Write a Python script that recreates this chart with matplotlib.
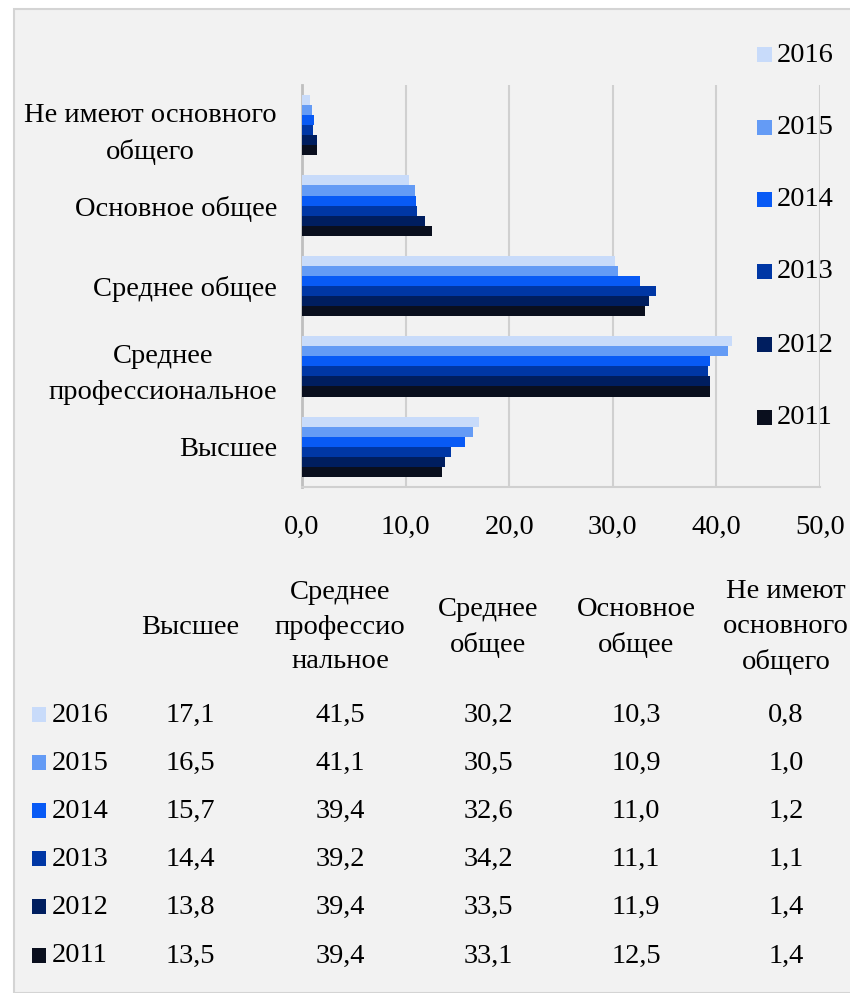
import matplotlib.pyplot as plt
import matplotlib.patches as mpatches
import numpy as np

plt.rcParams['font.family'] = ['Liberation Serif', 'DejaVu Serif']

# categories bottom -> top on chart
categories = ['Высшее', 'Среднее\nпрофессиональное', 'Среднее общее',
              'Основное общее', 'Не имеют основного\nобщего']
table_headers = ['Высшее', 'Среднее\nпрофессио\nнальное', 'Среднее\nобщее',
                 'Основное\nобщее', 'Не имеют\nосновного\nобщего']
years = ['2016', '2015', '2014', '2013', '2012', '2011']
colors = ['#c8dbfa', '#649bf5', '#085af5', '#0037a5', '#001e5f', '#0a0f1e']

# values per year, same order as categories
v2016 = [17.1, 41.5, 30.2, 10.3, 0.8]
v2015 = [16.5, 41.1, 30.5, 10.9, 1.0]
v2014 = [15.7, 39.4, 32.6, 11.0, 1.2]
v2013 = [14.4, 39.2, 34.2, 11.1, 1.1]
v2012 = [13.8, 39.4, 33.5, 11.9, 1.4]
v2011 = [13.5, 39.4, 33.1, 12.5, 1.4]
values = [v2016, v2015, v2014, v2013, v2012, v2011]

bg = '#f2f2f2'
fs = 20.5
fig = plt.figure(figsize=(8.5, 9.93), dpi=100)
fig.patch.set_facecolor('white')
fig.patches.append(mpatches.Rectangle((14/850, 0), 1, 1 - 9/993, transform=fig.transFigure,
                                      facecolor=bg, edgecolor='#d4d4d4', lw=1.5, zorder=-1))

ax = fig.add_axes([302/850, 1 - 487/993, 518/850, 402/993])
ax.set_facecolor(bg)
y = np.arange(len(categories))
h = 0.75 / len(years)
for i, (yr, vals) in enumerate(zip(years, values)):
    off = 0.375 - h * (i + 0.5)
    ax.barh(y + off, vals, height=h, color=colors[i], zorder=3)

ax.set_xlim(0, 50)
ax.set_ylim(-0.5, len(categories) - 0.5)
ax.set_xticks(np.arange(0, 51, 10))
ax.set_xticklabels([f'{t:.1f}'.replace('.', ',') for t in np.arange(0, 51, 10)], fontsize=fs)
ax.set_yticks(y)
ax.set_yticklabels(categories, fontsize=fs, multialignment='center', linespacing=1.55)
ax.tick_params(axis='x', length=0, pad=20)
ax.tick_params(axis='y', length=0, pad=18)
ax.grid(axis='x', color='#d0d0d0', lw=1.5, zorder=0)
for s in ['top', 'right']:
    ax.spines[s].set_visible(False)
ax.spines['left'].set_color('#bfbfbf')
ax.spines['left'].set_linewidth(2)
ax.spines['bottom'].set_color('#d0d0d0')
ax.spines['bottom'].set_linewidth(1.5)

# legend on the right
leg_y = [55, 128, 200, 272, 345, 418]
for yr, c, ly in zip(years, colors, leg_y):
    fig.patches.append(mpatches.Rectangle((757/850, 1 - (ly + 7)/993), 15/850, 15/993,
                                          transform=fig.transFigure, facecolor=c, edgecolor='none'))
    fig.text(777/850, 1 - ly/993, yr, fontsize=fs, va='center', ha='left')

# table below
col_x = [190, 340, 488, 636, 786]
for hx, hd in zip(col_x, table_headers):
    fig.text(hx/850, 1 - 627/993, hd, fontsize=fs, ha='center', va='center',
             multialignment='center', linespacing=1.5)
row_y = [715, 763, 811, 859, 907, 956]
for yr, c, vals, ry in zip(years, colors, values, row_y):
    fig.patches.append(mpatches.Rectangle((32/850, 1 - (ry + 7)/993), 14/850, 15/993,
                                          transform=fig.transFigure, facecolor=c, edgecolor='none'))
    fig.text(52/850, 1 - ry/993, yr, fontsize=fs, va='center', ha='left')
    for hx, v in zip(col_x, vals):
        fig.text(hx/850, 1 - ry/993, f'{v:.1f}'.replace('.', ','), fontsize=fs,
                 va='center', ha='center')

fig.savefig('out.png', dpi=100, facecolor=fig.get_facecolor())
